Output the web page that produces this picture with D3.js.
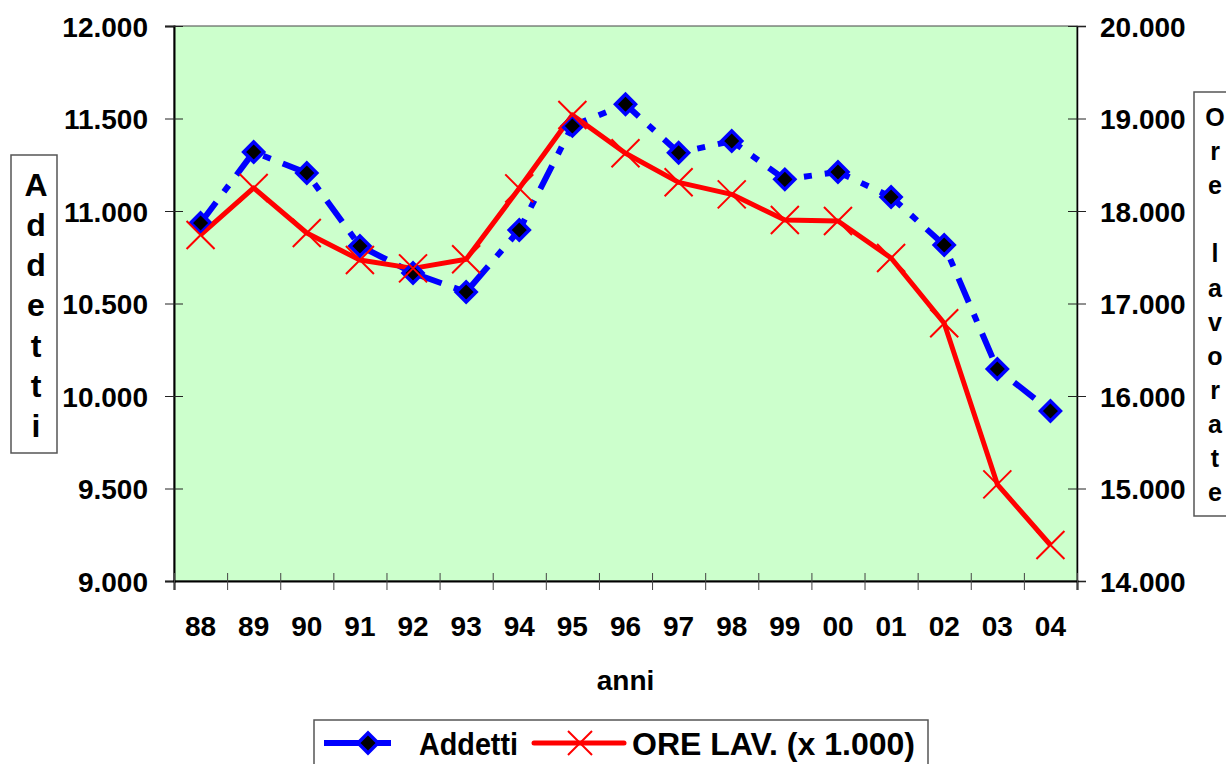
<!DOCTYPE html>
<html>
<head>
  <meta charset="utf-8">
  <title>Addetti e ore lavorate</title>
  <script src="https://d3js.org/d3.v7.min.js"></script>
  <style>
    body { margin: 0; background: #fff; }
    svg text { font-family: "Liberation Sans", Arial, sans-serif; font-weight: bold; fill: #000; }
  </style>
</head>
<body>
  <div id="chart"></div>
  <script>
    // Data
    const years = ["88","89","90","91","92","93","94","95","96","97","98","99","00","01","02","03","04"];
    const addetti = [10935, 11319, 11205, 10811, 10665, 10562, 10897, 11460, 11577, 11315, 11378, 11171, 11211, 11076, 10816, 10146, 9919];
    const oreLav = [17741, 18249, 17762, 17470, 17380, 17478, 18245, 19038, 18624, 18310, 18180, 17903, 17892, 17492, 16786, 15045, 14389];
    const leftTicks = [9000, 9500, 10000, 10500, 11000, 11500, 12000];
    const rightTicks = [14000, 15000, 16000, 17000, 18000, 19000, 20000];

    const W = 1226, H = 764;
    const plot = {left: 174, right: 1077, top: 26, bottom: 581};
    const fs = "28px";

    const svg = d3.select("#chart").append("svg")
      .attr("width", W).attr("height", H);

    const fmt = d3.formatLocale({decimal: ",", thousands: ".", grouping: [3], currency: ["", ""]}).format(",");

    const x = d3.scaleBand().domain(years).range([plot.left, plot.right]).padding(0);
    const xEdge = d3.scaleLinear().domain([0, years.length]).range([plot.left, plot.right]);
    const yL = d3.scaleLinear().domain([9000, 12000]).range([plot.bottom, plot.top]);
    const yR = d3.scaleLinear().domain([14000, 20000]).range([plot.bottom, plot.top]);

    // plot background
    svg.append("rect")
      .attr("x", plot.left).attr("y", plot.top)
      .attr("width", plot.right - plot.left).attr("height", plot.bottom - plot.top)
      .attr("fill", "#ccffcc").attr("stroke", "#444").attr("stroke-width", 1);

    // left axis
    const gL = svg.append("g").attr("transform", `translate(${plot.left},0)`)
      .call(d3.axisLeft(yL).tickValues(leftTicks).tickFormat(fmt).tickSize(9).tickPadding(17));
    gL.select(".domain").attr("stroke", "#000").attr("stroke-width", 2);
    gL.selectAll(".tick line").attr("x1", -9).attr("x2", 9).attr("stroke", "#222");
    gL.selectAll(".tick text").style("font-size", fs).attr("dy", "0.36em");

    // right axis
    const gR = svg.append("g").attr("transform", `translate(${plot.right},0)`)
      .call(d3.axisRight(yR).tickValues(rightTicks).tickFormat(fmt).tickSize(9).tickPadding(14));
    gR.select(".domain").attr("stroke", "#000").attr("stroke-width", 1.5);
    gR.selectAll(".tick line").attr("x1", -9).attr("x2", 9).attr("stroke", "#222");
    gR.selectAll(".tick text").style("font-size", fs).attr("dy", "0.36em");

    // bottom axis: ticks at category edges
    const gB = svg.append("g").attr("transform", `translate(0,${plot.bottom})`)
      .call(d3.axisBottom(xEdge).tickValues(d3.range(years.length + 1)).tickFormat("").tickSize(9));
    gB.select(".domain").attr("stroke", "#000").attr("stroke-width", 2);
    gB.selectAll(".tick line").attr("y1", -8).attr("y2", 9).attr("stroke", "#444");

    svg.append("g").selectAll("text").data(years).join("text")
      .attr("x", d => x(d) + x.bandwidth() / 2)
      .attr("y", 636)
      .attr("text-anchor", "middle")
      .style("font-size", fs)
      .text(d => d);

    svg.append("text")
      .attr("x", (plot.left + plot.right) / 2).attr("y", 690)
      .attr("text-anchor", "middle").style("font-size", fs)
      .text("anni");

    // vertical axis titles in boxes
    function vTitle(letters, cx, y0, step, size, box) {
      svg.append("rect").attr("x", box[0]).attr("y", box[1])
        .attr("width", box[2]).attr("height", box[3])
        .attr("fill", "#fff").attr("stroke", "#555").attr("stroke-width", 1.5);
      svg.append("g").selectAll("text").data(letters).join("text")
        .attr("x", cx).attr("y", (d, i) => y0 + i * step)
        .attr("dy", "0.36em")
        .attr("text-anchor", "middle")
        .style("font-size", size + "px")
        .text(d => d);
    }
    vTitle("Addetti".split(""), 36, 184, 40.3, 32, [11, 155, 46, 298]);
    vTitle("Ore lavorate".split(""), 1215, 117, 34.1, 25, [1194, 92, 40, 424]);

    // lines
    const lineL = d3.line().x((d, i) => x(years[i]) + x.bandwidth() / 2).y(d => yL(d));
    const lineR = d3.line().x((d, i) => x(years[i]) + x.bandwidth() / 2).y(d => yR(d));

    svg.append("path").datum(addetti)
      .attr("d", lineL).attr("fill", "none")
      .attr("stroke", "#0000ff").attr("stroke-width", 6)
      .attr("stroke-dasharray", "26,13,8,13");

    svg.append("path").datum(oreLav)
      .attr("d", lineR).attr("fill", "none")
      .attr("stroke", "#ff0000").attr("stroke-width", 5)
      .attr("stroke-linejoin", "round");

    const diamond = "M0,-10L10,0L0,10L-10,0Z";
    const cross = "M-14,-14L14,14M-14,14L14,-14";

    svg.append("g").selectAll("path").data(addetti).join("path")
      .attr("transform", (d, i) => `translate(${x(years[i]) + x.bandwidth() / 2},${yL(d)})`)
      .attr("d", diamond)
      .attr("fill", "#000").attr("stroke", "#0000ff").attr("stroke-width", 3.5);

    svg.append("g").selectAll("path").data(oreLav).join("path")
      .attr("transform", (d, i) => `translate(${x(years[i]) + x.bandwidth() / 2},${yR(d)})`)
      .attr("d", cross)
      .attr("fill", "none").attr("stroke", "#ff0000").attr("stroke-width", 2);

    // legend
    const lg = svg.append("g");
    lg.append("rect").attr("x", 314).attr("y", 720).attr("width", 614).attr("height", 60)
      .attr("fill", "#fff").attr("stroke", "#555").attr("stroke-width", 1.5);
    lg.append("line").attr("x1", 324).attr("x2", 391).attr("y1", 743).attr("y2", 743)
      .attr("stroke", "#0000ff").attr("stroke-width", 6).attr("stroke-dasharray", "40,4,8,0");
    lg.append("path").attr("transform", "translate(368,743)").attr("d", diamond)
      .attr("fill", "#000").attr("stroke", "#0000ff").attr("stroke-width", 3.5);
    lg.append("text").attr("x", 419).attr("y", 755).style("font-size", "31px")
      .attr("textLength", 99).attr("lengthAdjust", "spacingAndGlyphs").text("Addetti");
    lg.append("line").attr("x1", 534).attr("x2", 624).attr("y1", 743).attr("y2", 743)
      .attr("stroke", "#ff0000").attr("stroke-width", 5).attr("stroke-linecap", "round");
    lg.append("path").attr("transform", "translate(580,743)").attr("d", "M-12,-12L12,12M-12,12L12,-12")
      .attr("fill", "none").attr("stroke", "#ff0000").attr("stroke-width", 2);
    lg.append("text").attr("x", 632).attr("y", 755).style("font-size", "31px")
      .attr("textLength", 283).attr("lengthAdjust", "spacingAndGlyphs").text("ORE LAV. (x 1.000)");
  </script>
</body>
</html>
